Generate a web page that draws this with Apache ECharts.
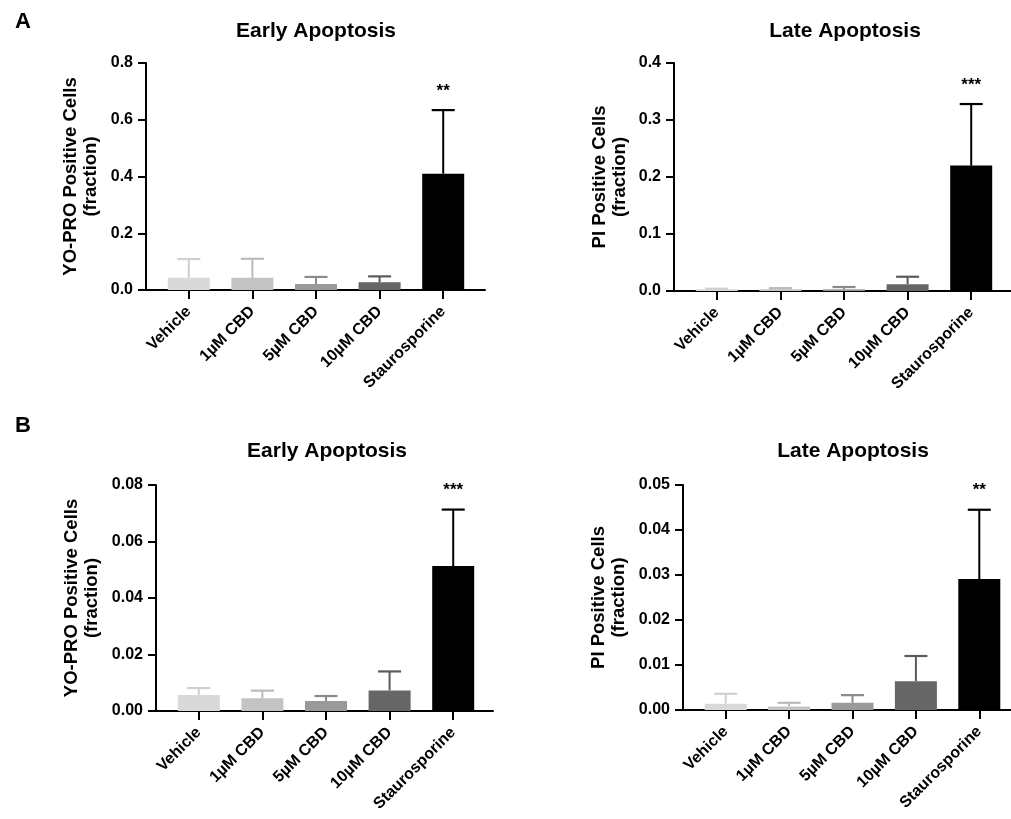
<!DOCTYPE html>
<html>
<head>
<meta charset="utf-8">
<script src="https://cdn.jsdelivr.net/npm/echarts@6/dist/echarts.min.js"></script>
<style>
  html, body { margin: 0; padding: 0; background: #fff; }
  #chart { width: 1011px; height: 819px; }
</style>
</head>
<body>
<div id="chart"></div>
<script>
// categories and values
var categories = ['Vehicle', '1µM CBD', '5µM CBD', '10µM CBD', 'Staurosporine'];

// A - early apoptosis (YO-PRO)
var earlyA = [0.043, 0.043, 0.021, 0.027, 0.41];
var earlyAErr = [0.066, 0.067, 0.025, 0.021, 0.224];
// A - late apoptosis (PI)
var lateA = [0.003, 0.003, 0.003, 0.012, 0.22];
var lateAErr = [0.001, 0.002, 0.004, 0.013, 0.108];
// B - early apoptosis (YO-PRO)
var earlyB = [0.0057, 0.0045, 0.0035, 0.0073, 0.0513];
var earlyBErr = [0.0024, 0.0027, 0.0018, 0.0067, 0.0200];
// B - late apoptosis (PI)
var lateB = [0.0014, 0.0008, 0.0016, 0.0064, 0.0291];
var lateBErr = [0.0022, 0.0008, 0.0017, 0.0056, 0.0154];

// significance marks
var starsEarlyA = ['', '', '', '', '**'];
var starsLateA = ['', '', '', '', '***'];
var starsEarlyB = ['', '', '', '', '***'];
var starsLateB = ['', '', '', '', '**'];

// y axis ticks: min, max, step
var ticksEarlyA = [0, 0.8, 0.2];
var ticksLateA = [0, 0.4, 0.1];
var ticksEarlyB = [0, 0.08, 0.02];
var ticksLateB = [0, 0.05, 0.01];

var barColors = ['#d9d9d9', '#c3c3c3', '#9a9a9a', '#666666', '#000000'];
var errColors = ['#cfcfcf', '#bababa', '#8a8a8a', '#5a5a5a', '#000000'];

var FONT = '"Liberation Sans", Arial, Helvetica, sans-serif';

var myChart = echarts.init(document.getElementById('chart'));

var option = {
  animation: false,
  backgroundColor: '#fff',
  title: [],
  grid: [],
  xAxis: [],
  yAxis: [],
  series: []
};

function addPanel(p) {
  var gi = option.grid.length;
  // outer grid: draws the axis frame
  option.grid.push({ left: p.axisX, top: p.top, width: p.width, height: p.height });
  // inner grid: holds the category slots
  option.grid.push({ left: p.innerLeft, top: p.top, width: p.innerWidth, height: p.height });

  option.xAxis.push({
    gridIndex: gi, type: 'value', min: 0, max: 1,
    axisLine: { show: true, onZero: false, lineStyle: { color: '#000', width: 2 } },
    axisTick: { show: false }, axisLabel: { show: false }, splitLine: { show: false }
  });
  option.yAxis.push({
    gridIndex: gi, type: 'value', min: p.ticks[0], max: p.ticks[1], interval: p.ticks[2],
    name: p.name, nameLocation: 'middle', nameRotate: 90, nameGap: p.nameGap,
    nameTextStyle: { fontFamily: FONT, fontWeight: 'bold', fontSize: 18.5, lineHeight: 20, color: '#000' },
    axisLine: { show: true, lineStyle: { color: '#000', width: 2 } },
    axisTick: { show: true, length: 8, lineStyle: { color: '#000', width: 2 } },
    axisLabel: {
      margin: 13, fontFamily: FONT, fontWeight: 'bold', fontSize: 16, color: '#000',
      formatter: function(v) { return v.toFixed(p.decimals); }
    },
    splitLine: { show: false }
  });

  option.xAxis.push({
    gridIndex: gi + 1, type: 'category', data: categories,
    axisLine: { show: false },
    axisTick: { show: true, alignWithLabel: true, length: 9, lineStyle: { color: '#000', width: 2 } },
    axisLabel: {
      interval: 0, rotate: 45, margin: 19, fontFamily: FONT, fontWeight: 'bold', fontSize: 16, color: '#000'
    }
  });
  option.yAxis.push({
    gridIndex: gi + 1, type: 'value', min: p.ticks[0], max: p.ticks[1], show: false
  });

  option.series.push({
    type: 'bar', xAxisIndex: gi + 1, yAxisIndex: gi + 1, barWidth: 42, z: 1,
    data: p.values.map(function(v, i) {
      return { value: v, itemStyle: { color: barColors[i] } };
    })
  });

  option.series.push({
    type: 'custom', xAxisIndex: gi + 1, yAxisIndex: gi + 1, z: 3,
    data: p.values.map(function(v, i) { return [i, v, v + p.err[i]]; }),
    renderItem: function(params, api) {
      var i = api.value(0);
      var base = api.coord([i, api.value(1)]);
      var top = api.coord([i, api.value(2)]);
      var c = errColors[i];
      var children = [
        { type: 'line', shape: { x1: base[0], y1: base[1], x2: top[0], y2: top[1] }, style: { stroke: c, lineWidth: 2 } },
        { type: 'line', shape: { x1: top[0] - 11.5, y1: top[1], x2: top[0] + 11.5, y2: top[1] }, style: { stroke: c, lineWidth: 2.2 } }
      ];
      var s = p.stars[i];
      if (s) {
        children.push({
          type: 'text',
          style: { text: s, x: top[0], y: top[1] - 19, align: 'center', verticalAlign: 'middle',
            font: 'bold 17px ' + FONT, fill: '#000' }
        });
      }
      return { type: 'group', children: children };
    }
  });

  option.title.push({
    text: p.title, left: p.titleX, top: p.titleY, textAlign: 'center',
    textStyle: { fontFamily: FONT, fontWeight: 'bold', fontSize: 21, color: '#000' }
  });
}

addPanel({
  title: 'Early Apoptosis', titleX: 311, titleY: 16,
  name: 'YO-PRO Positive Cells\n(fraction)', nameGap: 45,
  axisX: 146, width: 339, top: 63, height: 227, innerLeft: 157, innerWidth: 318,
  ticks: ticksEarlyA, decimals: 1, values: earlyA, err: earlyAErr, stars: starsEarlyA
});
addPanel({
  title: 'Late Apoptosis', titleX: 840, titleY: 16,
  name: 'PI Positive Cells\n(fraction)', nameGap: 44,
  axisX: 674, width: 339, top: 63, height: 228, innerLeft: 685, innerWidth: 318,
  ticks: ticksLateA, decimals: 1, values: lateA, err: lateAErr, stars: starsLateA
});
addPanel({
  title: 'Early Apoptosis', titleX: 322, titleY: 436,
  name: 'YO-PRO Positive Cells\n(fraction)', nameGap: 54,
  axisX: 156, width: 337, top: 485, height: 226, innerLeft: 167, innerWidth: 318,
  ticks: ticksEarlyB, decimals: 2, values: earlyB, err: earlyBErr, stars: starsEarlyB
});
addPanel({
  title: 'Late Apoptosis', titleX: 848, titleY: 436,
  name: 'PI Positive Cells\n(fraction)', nameGap: 54,
  axisX: 683, width: 339, top: 485, height: 225, innerLeft: 694, innerWidth: 317,
  ticks: ticksLateB, decimals: 2, values: lateB, err: lateBErr, stars: starsLateB
});

// panel letters
option.title.push({ text: 'A', left: 10, top: 6, textStyle: { fontFamily: FONT, fontWeight: 'bold', fontSize: 22, color: '#000' } });
option.title.push({ text: 'B', left: 10, top: 410, textStyle: { fontFamily: FONT, fontWeight: 'bold', fontSize: 22, color: '#000' } });

myChart.setOption(option);
</script>
</body>
</html>
